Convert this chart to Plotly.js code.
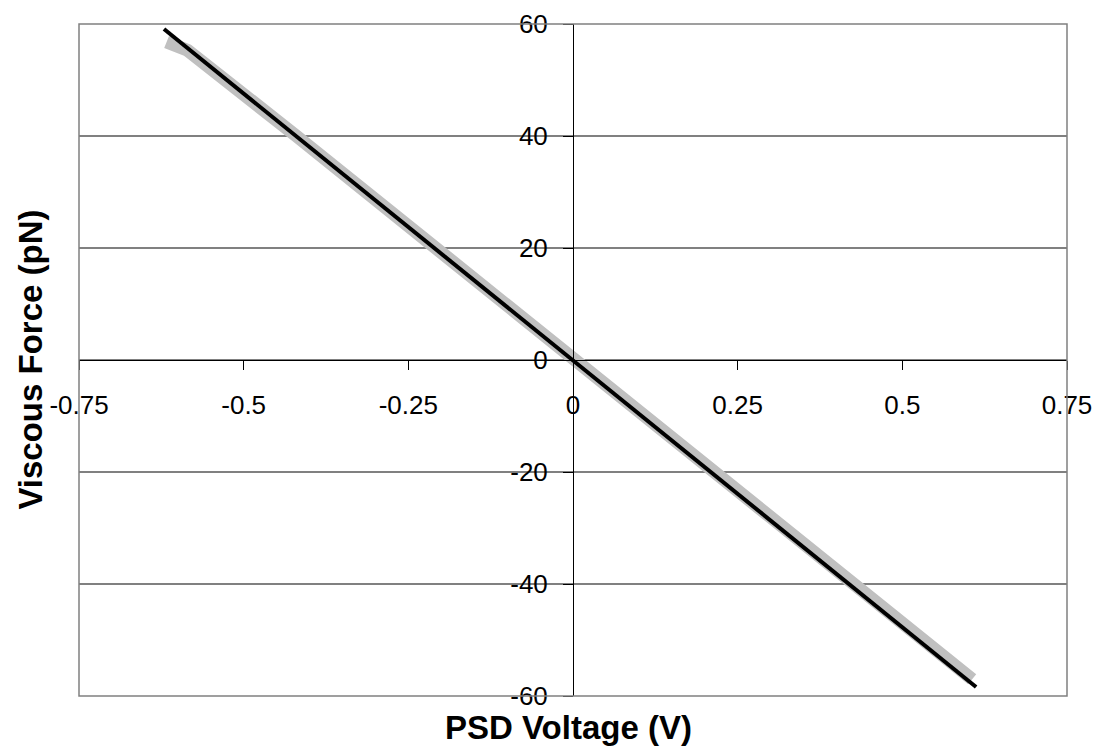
<!DOCTYPE html>
<html>
<head>
<meta charset="utf-8">
<script src="https://cdn.plot.ly/plotly-3.0.1.min.js"></script>
<style>
  html, body { margin: 0; padding: 0; background: #ffffff; }
  #chart { width: 1096px; height: 755px; }
</style>
</head>
<body>
<div id="chart"></div>
<script>
// Measured viscous force versus PSD voltage (grey band) and its linear fit (black)
const measuredVoltage = [-0.617, -0.585, -0.42, 0.0, 0.21, 0.45, 0.606];
const measuredForce   = [56.8, 55.3, 40.0, 0.3, -20.0, -42.6, -57.0];

const fitVoltage = [-0.621, 0.612];
const fitForce   = [59.1, -58.4];

const xTickValues = [-0.75, -0.5, -0.25, 0, 0.25, 0.5, 0.75];
const xTickLabels = ['-0.75', '-0.5', '-0.25', '0', '0.25', '0.5', '0.75'];
const yTickValues = [-60, -40, -20, 0, 20, 40, 60];
const yTickLabels = ['-60', '-40', '-20', '0', '20', '40', '60'];

const xTitle = 'PSD Voltage (V)';
const yTitle = 'Viscous Force (pN)';

const font = 'Liberation Sans, Arial, sans-serif';

const traces = [
  {
    x: measuredVoltage,
    y: measuredForce,
    type: 'scatter',
    mode: 'lines',
    line: { color: '#c0c0c0', width: 13 },
    hoverinfo: 'skip',
    showlegend: false
  },
  {
    x: fitVoltage,
    y: fitForce,
    type: 'scatter',
    mode: 'lines',
    line: { color: '#000000', width: 4 },
    hoverinfo: 'skip',
    showlegend: false
  }
];

const layout = {
  width: 1096,
  height: 755,
  margin: { l: 79, r: 29, t: 24, b: 59, pad: 0 },
  paper_bgcolor: '#ffffff',
  plot_bgcolor: '#ffffff',
  showlegend: false,
  font: { family: font, size: 26, color: '#000000' },
  xaxis: {
    range: [-0.75, 0.75],
    anchor: 'free',
    position: 0.5,
    side: 'bottom',
    tickmode: 'array',
    tickvals: xTickValues,
    ticktext: xTickLabels,
    ticks: 'outside',
    ticklen: 9,
    tickwidth: 1,
    tickcolor: '#000000',
    ticklabelstandoff: 13,
    showline: true,
    linecolor: '#000000',
    linewidth: 1,
    showgrid: false,
    zeroline: false,
    tickfont: { family: font, size: 26, color: '#000000' },
    fixedrange: true
  },
  yaxis: {
    range: [-60, 60],
    anchor: 'free',
    position: 0.5,
    side: 'left',
    tickmode: 'array',
    tickvals: yTickValues,
    ticktext: yTickLabels,
    ticks: 'outside',
    ticklen: 10,
    tickwidth: 1,
    tickcolor: '#000000',
    ticklabelstandoff: 10,
    showline: true,
    linecolor: '#000000',
    linewidth: 1,
    showgrid: true,
    gridcolor: '#808080',
    gridwidth: 1.5,
    zeroline: false,
    tickfont: { family: font, size: 26, color: '#000000' },
    fixedrange: true
  },
  shapes: [
    {
      type: 'rect',
      xref: 'paper', yref: 'paper',
      x0: 0, x1: 1, y0: 0, y1: 1,
      line: { color: '#808080', width: 1.5 },
      layer: 'above'
    }
  ],
  annotations: [
    {
      text: '<b>' + xTitle + '</b>',
      xref: 'paper', yref: 'paper',
      x: 0.495, y: -0.047,
      xanchor: 'center', yanchor: 'middle',
      showarrow: false,
      font: { family: font, size: 33, color: '#000000' }
    },
    {
      text: '<b>' + yTitle + '</b>',
      xref: 'paper', yref: 'paper',
      x: -0.05, y: 0.5,
      xanchor: 'center', yanchor: 'middle',
      textangle: -90,
      showarrow: false,
      font: { family: font, size: 33, color: '#000000' }
    }
  ]
};

Plotly.newPlot('chart', traces, layout, { staticPlot: true, displayModeBar: false });
</script>
</body>
</html>
